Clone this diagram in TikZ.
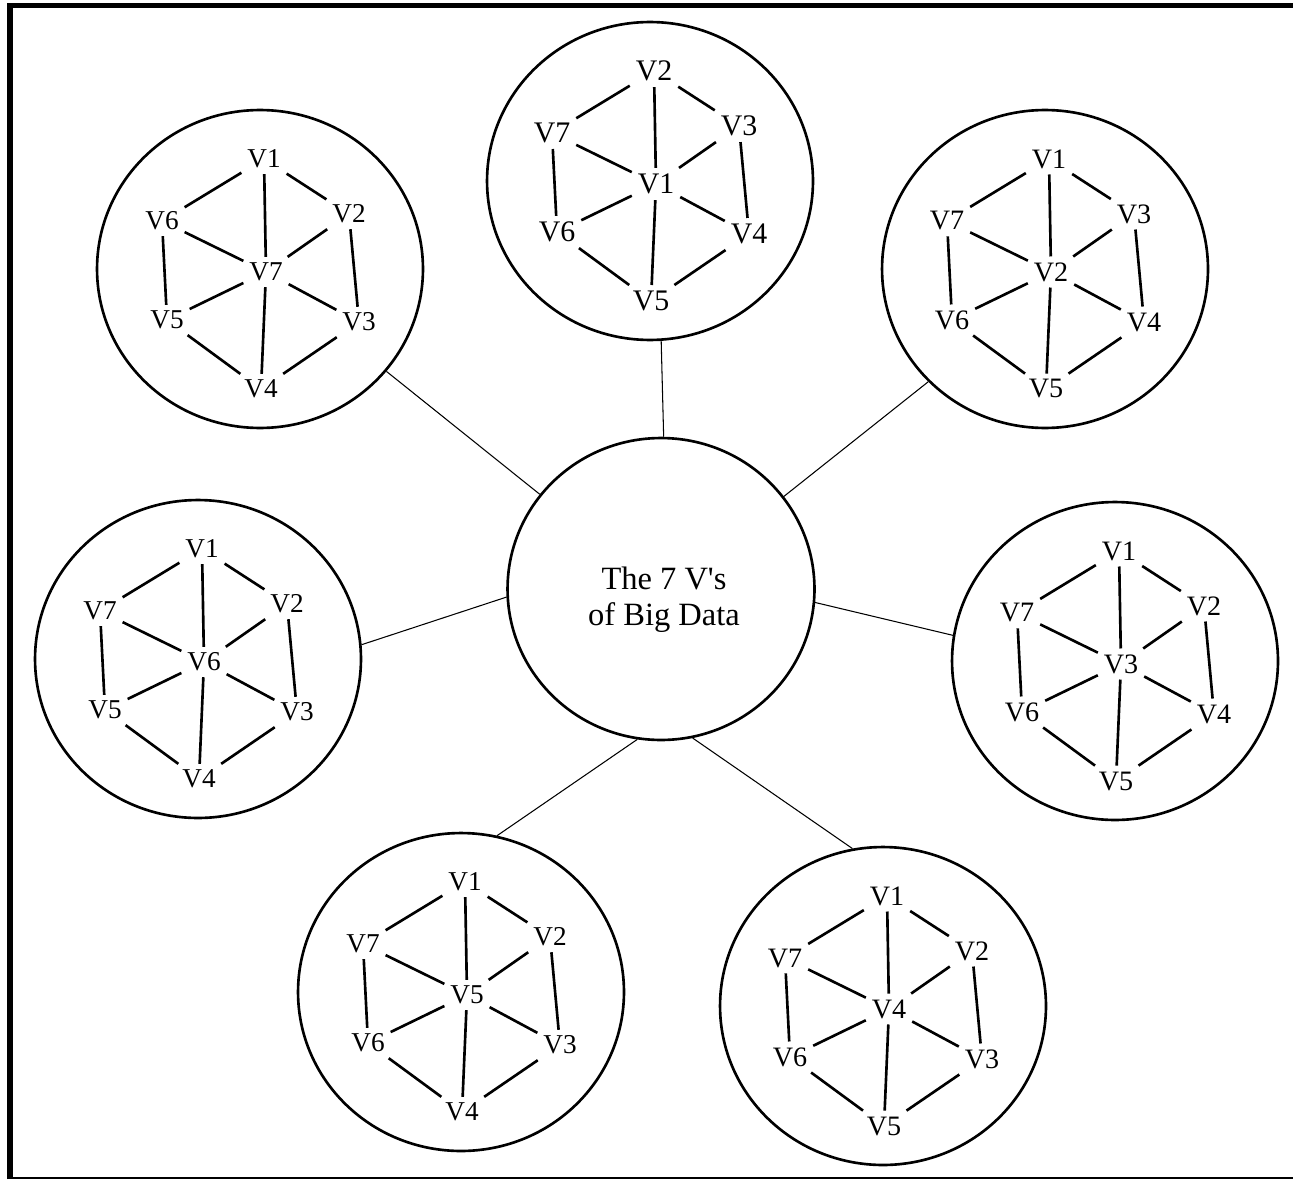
\documentclass[tikz,border=0pt]{standalone}
\usepackage{fontspec}
\setmainfont{Liberation Serif}
\usepackage{tikz}
\usetikzlibrary{shapes.geometric}

\begin{document}
\begin{tikzpicture}[
  x=0.02cm, y=-0.02cm,
  hub/.style={draw, line width=1.5pt, ellipse, minimum width=6.14cm, minimum height=6.04cm},
  hubtxt/.style={align=center, inner sep=0pt, font=\fontsize{18.5}{20.5}\selectfont},
  vring/.style={draw, line width=1.5pt, ellipse, minimum width=6.52cm, minimum height=6.36cm},
  vlbl/.style={inner sep=0pt, outer sep=0.12cm},
  vedge/.style={line width=1.5pt},
  link/.style={line width=0.6pt},
  frame/.style={line width=3.4pt}
]
\useasboundingbox (0,0) rectangle (1293,1179);

% Frame
\draw[frame] (10,1179) -- (10,5.5) -- (1293,5.5);
\draw[line width=0.8pt] (10,1178) -- (1293,1178);

% Centre
\node[hub] (hub) at (661,589) {};
\node[hubtxt] (title) at (664,600) {The 7 V\textquotesingle s\\of Big Data};

% Seven rings: name/x/y/size/hub angle/ring angle/centre/top/upper right/lower right/bottom/lower left/upper left
\foreach \n/\cx/\cy/\fs/\ha/\ra/\kc/\kt/\kr/\ks/\kb/\kl/\ku in {
  t/650/181/17/89/274/V1/V2/V3/V4/V5/V6/V7,
  tl/260/269/15.5/142/321/V7/V1/V2/V3/V4/V5/V6,
  tr/1045/269/16/37.5/224/V2/V1/V3/V4/V5/V6/V7,
  l/198/659/15.5/183.4/5.5/V6/V1/V2/V3/V4/V5/V7,
  r/1115/661/16/355.5/171.7/V3/V1/V2/V4/V5/V6/V7,
  bl/461/992/15.5/261/77/V5/V1/V2/V3/V4/V6/V7,
  br/883/1006/16/282/101.7/V4/V1/V2/V3/V5/V6/V7
}{
  \node[vring] (\n) at (\cx,\cy) {};
  \begin{scope}[shift={(\cx,\cy)}, font=\fontsize{\fs}{\fs}\selectfont]
    \node[vlbl] (\n0) at (6,3)     {\kc};
    \node[vlbl] (\n1) at (4,-110)  {\kt};
    \node[vlbl] (\n2) at (89,-55)  {\kr};
    \node[vlbl] (\n3) at (99,53)   {\ks};
    \node[vlbl] (\n4) at (1,120)   {\kb};
    \node[vlbl] (\n5) at (-93,51)  {\kl};
    \node[vlbl] (\n6) at (-98,-48) {\ku};
    \foreach \i/\j in {1/2,2/3,3/4,4/5,5/6,6/1}
      \draw[vedge] (\n\i) -- (\n\j);
    \foreach \i in {1,...,6}
      \draw[vedge] (\n0) -- (\n\i);
  \end{scope}
  \draw[link] (hub.\ha) -- (\n.\ra);
}

\end{tikzpicture}
\end{document}
